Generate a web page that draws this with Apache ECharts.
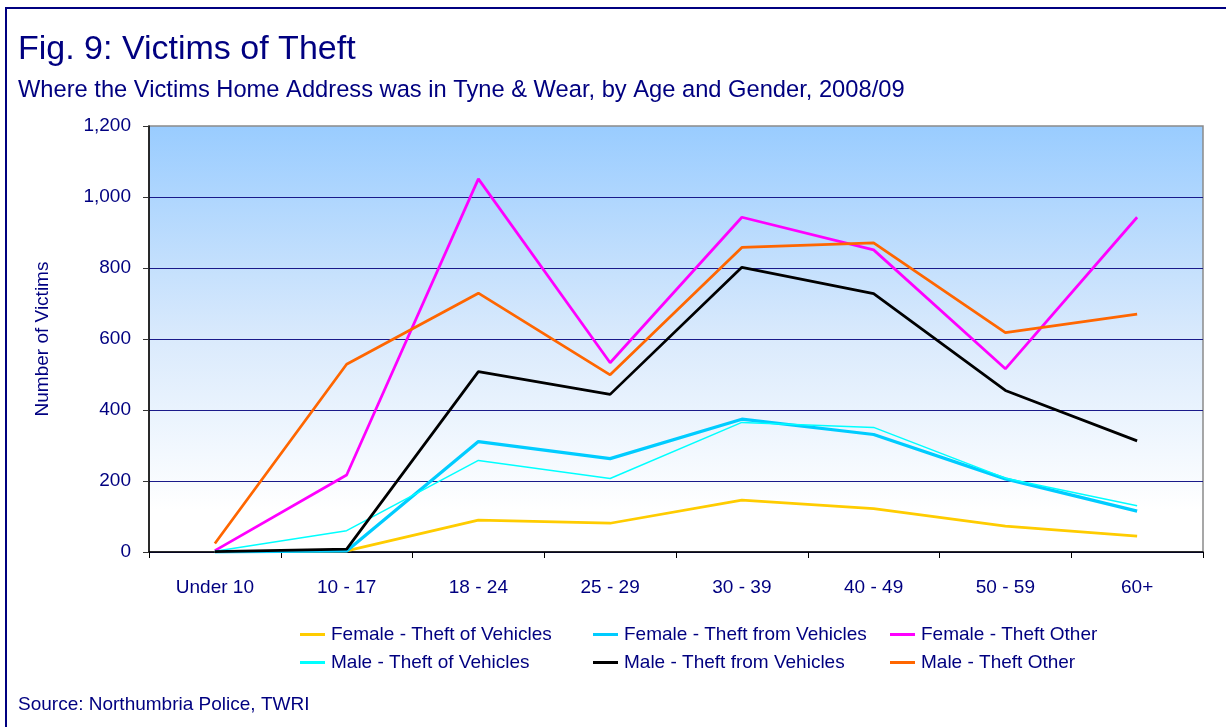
<!DOCTYPE html>
<html>
<head>
<meta charset="utf-8">
<script src="https://cdn.jsdelivr.net/npm/echarts@6/dist/echarts.min.js"></script>
<style>
html,body{margin:0;padding:0;background:#fff;}
#chart{width:1226px;height:727px;}
</style>
</head>
<body>
<div id="chart"></div>
<script>
const categories = ['Under 10', '10 - 17', '18 - 24', '25 - 29', '30 - 39', '40 - 49', '50 - 59', '60+'];
const femaleTheftOfVehicles   = [1, 3, 90, 81, 146, 122, 73, 45];
const femaleTheftFromVehicles = [0, 3, 311, 263, 374, 331, 206, 115];
const femaleTheftOther        = [4, 217, 1051, 533, 943, 851, 516, 943];
const maleTheftOfVehicles     = [2, 60, 258, 207, 365, 351, 208, 130];
const maleTheftFromVehicles   = [1, 8, 508, 444, 802, 728, 455, 313];
const maleTheftOther          = [24, 529, 729, 499, 858, 871, 618, 670];
const yTicks = [0, 200, 400, 600, 800, 1000, 1200];

const NAVY = '#000080';
const FONT = "'Liberation Sans', Arial, sans-serif";

const seriesDefs = [
  {name: 'Female - Theft of Vehicles', data: femaleTheftOfVehicles, color: '#FFCC00', width: 2.75},
  {name: 'Female - Theft from Vehicles', data: femaleTheftFromVehicles, color: '#00CCFF', width: 3.25},
  {name: 'Female - Theft Other', data: femaleTheftOther, color: '#FF00FF', width: 2.75},
  {name: 'Male - Theft of Vehicles', data: maleTheftOfVehicles, color: '#00FFFF', width: 1.5},
  {name: 'Male - Theft from Vehicles', data: maleTheftFromVehicles, color: '#000000', width: 2.75},
  {name: 'Male - Theft Other', data: maleTheftOther, color: '#FF6600', width: 2.75}
];

const chart = echarts.init(document.getElementById('chart'), null, {renderer: 'canvas'});

function legendCol(left, names) {
  return {
    show: true,
    orient: 'vertical',
    left: left,
    top: 625,
    icon: 'rect',
    itemWidth: 25,
    itemHeight: 3,
    itemGap: 9,
    padding: 0,
    selectedMode: false,
    textStyle: {color: NAVY, fontSize: 19, fontFamily: FONT, lineHeight: 19, padding: [0,0,0,1]},
    data: names
  };
}

const option = {
  animation: false,
  backgroundColor: '#ffffff',
  graphic: [
    {type: 'rect', shape: {x: 6, y: 8, width: 1260, height: 760}, style: {fill: 'none', stroke: NAVY, lineWidth: 2}, silent: true, z: 0},
    {type: 'text', x: 18, y: 50, style: {text: 'Fig. 9: Victims of Theft', fill: NAVY, font: "34px " + FONT, verticalAlign: 'middle', align: 'left'}},
    {type: 'text', x: 18, y: 90, style: {text: 'Where the Victims Home Address was in Tyne & Wear, by Age and Gender, 2008/09', fill: NAVY, font: "23.7px " + FONT, verticalAlign: 'middle', align: 'left'}},
    {type: 'text', x: 18, y: 705, style: {text: 'Source: Northumbria Police, TWRI', fill: NAVY, font: "19px " + FONT, verticalAlign: 'middle', align: 'left'}}
  ],
  legend: [
    legendCol(300, [seriesDefs[0].name, seriesDefs[3].name]),
    legendCol(593, [seriesDefs[1].name, seriesDefs[4].name]),
    legendCol(890, [seriesDefs[2].name, seriesDefs[5].name])
  ],
  grid: {
    left: 149, right: 23, top: 126, bottom: 175,
    show: true,
    borderColor: '#8a8a8a',
    borderWidth: 1.5,
    backgroundColor: new echarts.graphic.LinearGradient(0, 0, 0, 1, [
      {offset: 0, color: '#99CCFF'},
      {offset: 0.5, color: '#DAEAFC'},
      {offset: 0.9, color: '#FFFFFF'},
      {offset: 1, color: '#FFFFFF'}
    ]),
    containLabel: false,
    outerBoundsMode: 'none'
  },
  xAxis: {
    type: 'category',
    data: categories,
    boundaryGap: true,
    axisLine: {show: true, lineStyle: {color: '#000000', width: 1.5}},
    axisTick: {show: true, length: 6, inside: false, alignWithLabel: false, lineStyle: {color: '#000000', width: 1}},
    axisLabel: {color: NAVY, fontSize: 19, fontFamily: FONT, margin: 26, interval: 0},
    splitLine: {show: false}
  },
  yAxis: {
    type: 'value',
    min: 0, max: 1200, interval: 200,
    name: 'Number of Victims',
    nameLocation: 'middle',
    nameGap: 97,
    nameRotate: 90,
    nameTextStyle: {color: NAVY, fontSize: 19, fontFamily: FONT},
    axisLine: {show: true, lineStyle: {color: '#000000', width: 1.5}},
    axisTick: {show: true, length: 6, lineStyle: {color: '#333333', width: 1}},
    axisLabel: {
      color: NAVY, fontSize: 19, fontFamily: FONT, margin: 18,
      formatter: function (v) { return yTicks.indexOf(v) >= 0 ? v.toLocaleString('en-US') : ''; }
    },
    splitLine: {show: true, showMaxLine: false, lineStyle: {color: '#1a1a8a', width: 1.2}}
  },
  series: seriesDefs.map(function (s) {
    return {
      name: s.name,
      type: 'line',
      data: s.data,
      showSymbol: false,
      symbol: 'none',
      color: s.color,
      lineStyle: {color: s.color, width: s.width},
      itemStyle: {color: s.color},
      emphasis: {disabled: true}
    };
  })
};

chart.setOption(option);
</script>
</body>
</html>
